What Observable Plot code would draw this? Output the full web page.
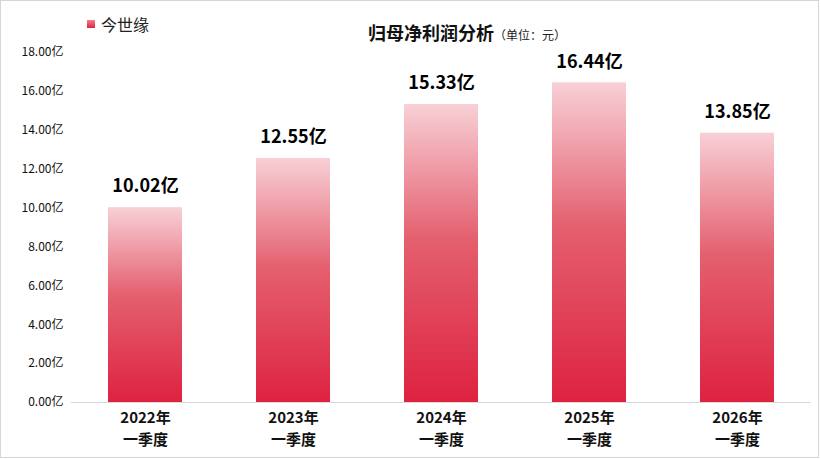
<!DOCTYPE html>
<html>
<head>
<meta charset="utf-8">
<script src="https://cdn.jsdelivr.net/npm/d3@7"></script>
<script src="https://cdn.jsdelivr.net/npm/@observablehq/plot@0.6"></script>
<style>
  html, body { margin: 0; padding: 0; background: #fff; }
  #wrap { position: relative; width: 821px; height: 459px; overflow: hidden; background: #fff;
          font-family: "Microsoft YaHei", "Noto Sans CJK SC", sans-serif; }
  #header { position: relative; height: 40px; }
  #legend { position: absolute; left: 87px; top: 12px; display: flex; align-items: center; font-size: 16px; color: #222; }
  #legend .sw { width: 8px; height: 8px; background: linear-gradient(#f27d8d, #df2340); margin-right: 6px; }
  #title { position: absolute; left: 368px; top: 19px; font-size: 18px; font-weight: bold; color: #111; white-space: nowrap; }
  #title span { font-size: 12px; font-weight: normal; color: #222; }
  #border { position: absolute; left: 0; top: 0; width: 819px; height: 458px; border: 1.5px solid #d6d6d6; box-sizing: border-box; pointer-events: none; }
  svg { display: block; }
</style>
</head>
<body>
<div id="wrap">
  <div id="header">
    <div id="legend"><div class="sw"></div><div>今世缘</div></div>
    <div id="title">归母净利润分析<span>（单位：元）</span></div>
  </div>
  <div id="chart"></div>
  <div id="border"></div>
</div>
<script>
const years = ["2022年", "2023年", "2024年", "2025年", "2026年"];
const quarterLabel = "一季度";
const profits = [10.02, 12.55, 15.33, 16.44, 13.85];
const yTicks = [0, 2, 4, 6, 8, 10, 12, 14, 16, 18];

const data = years.map((p, i) => ({period: p, value: profits[i]}));

const plot = Plot.plot({
  width: 821,
  height: 419,
  marginTop: 12,
  marginBottom: 57,
  marginLeft: 71,
  marginRight: 10,
  style: {background: "transparent", fontFamily: "'Microsoft YaHei', 'Noto Sans CJK SC', sans-serif", color: "#111"},
  x: {domain: years, paddingInner: 0.5, paddingOuter: 0.25, label: null},
  y: {domain: [0, 18], label: null},
  marks: [
    Plot.axisY({ticks: yTicks, tickSize: 0, tickPadding: 8, fontSize: 12, tickFormat: d => d.toFixed(2) + "亿", label: null}),
    Plot.axisX({tickSize: 0, tickPadding: 10, fontSize: 15, fontWeight: "bold", label: null}),
    Plot.axisX({tickSize: 0, tickPadding: 32, fontSize: 15, fontWeight: "bold", tickFormat: () => quarterLabel, label: null}),
    Plot.barY(data, {x: "period", y: "value", fill: "url(#barGrad)"}),
    Plot.ruleY([0], {stroke: "#d9d9d9", strokeWidth: 1}),
    Plot.text(data, {x: "period", y: "value", text: d => d.value.toFixed(2) + "亿", dy: -21, fontSize: 18, fontWeight: "bold", fill: "#000"})
  ]
});

const defs = d3.select(plot).insert("defs", ":first-child");
const g = defs.append("linearGradient").attr("id", "barGrad")
  .attr("x1", 0).attr("y1", 0).attr("x2", 0).attr("y2", 1);
g.append("stop").attr("offset", "0%").attr("stop-color", "#f8d0d6");
g.append("stop").attr("offset", "45%").attr("stop-color", "#e4606f");
g.append("stop").attr("offset", "100%").attr("stop-color", "#de2240");

document.getElementById("chart").appendChild(plot);
</script>
</body>
</html>
